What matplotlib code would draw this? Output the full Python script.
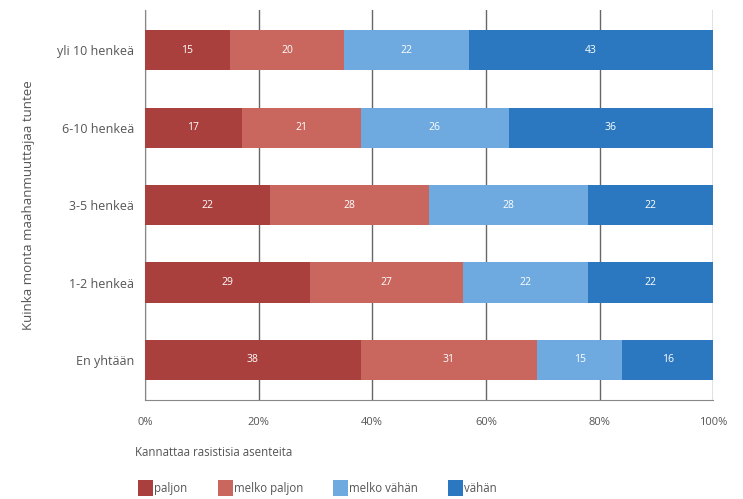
import numpy as np
import matplotlib.pyplot as plt
from matplotlib.patches import Patch

# Data
groups = ['yli 10 henkeä', '6-10 henkeä', '3-5 henkeä', '1-2 henkeä', 'En yhtään']
series = ['paljon', 'melko paljon', 'melko vähän', 'vähän']
paljon = [15, 17, 22, 29, 38]
melko_paljon = [20, 21, 28, 27, 31]
melko_vahan = [22, 26, 28, 22, 15]
vahan = [43, 36, 22, 22, 16]
colors = ['#a9403d', '#c9675e', '#6eaadf', '#2b78c0']

plt.rcParams['font.family'] = ['Open Sans', 'DejaVu Sans']
txt = '#555555'

fig = plt.figure(figsize=(7.43, 4.99), dpi=100)
ax = fig.add_axes([0.195, 0.198, 0.765, 0.782])

y = np.arange(len(groups))[::-1]
left = np.zeros(len(groups))
for vals, col in zip([paljon, melko_paljon, melko_vahan, vahan], colors):
    vals = np.array(vals)
    ax.barh(y, vals, left=left, height=0.52, color=col, zorder=3)
    for yi, l, v in zip(y, left, vals):
        ax.text(l + v / 2, yi, str(v), ha='center', va='center',
                color='white', fontsize=7.5, zorder=4)
    left += vals

ax.set_xlim(0, 100)
ax.set_ylim(-0.52, 4.52)
ax.set_xticks([0, 20, 40, 60, 80, 100])
ax.set_xticklabels(['0%', '20%', '40%', '60%', '80%', '100%'], color=txt, fontsize=8)
ax.set_yticks(y)
ax.set_yticklabels(groups, color=txt, fontsize=9)
ax.tick_params(length=0, pad=12)
ax.tick_params(axis='y', pad=8)
ax.grid(axis='x', color='#666666', linewidth=1, zorder=0)
for s in ['top', 'right']:
    ax.spines[s].set_visible(False)
for s in ['left', 'bottom']:
    ax.spines[s].set_color('#888888')
ax.set_ylabel('Kuinka monta maahanmuuttajaa tuntee', color=txt, fontsize=9.5, labelpad=16)

fig.text(0.182, 0.094, 'Kannattaa rasistisia asenteita', color=txt, fontsize=8.3,
         ha='left', va='center')
handles = [Patch(facecolor=c) for c in colors]
fig.legend(handles, series, loc='center left', bbox_to_anchor=(0.172, 0.022),
           ncol=4, frameon=False, fontsize=8.3, labelcolor=txt,
           handlelength=1.3, handleheight=1.8, handletextpad=0.1, columnspacing=2.6)

fig.savefig('out.png', dpi=100)
